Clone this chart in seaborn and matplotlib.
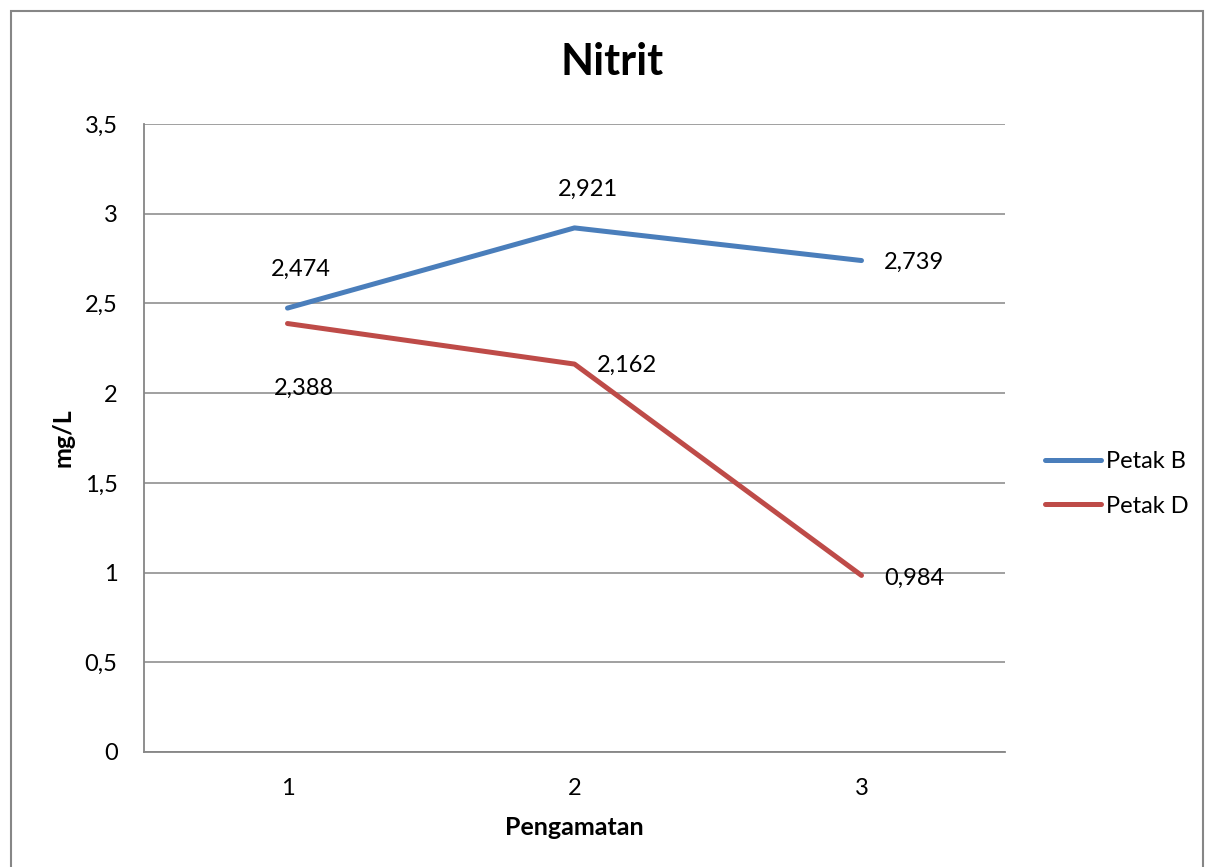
import numpy as np
import pandas as pd
import seaborn as sns
import matplotlib.pyplot as plt
from matplotlib.patches import Rectangle
from matplotlib.ticker import FuncFormatter

# data
pengamatan = [1, 2, 3]
petak_b = [2.474, 2.921, 2.739]
petak_d = [2.388, 2.162, 0.984]
series_names = ['Petak B', 'Petak D']
colors = ['#4A7EBB', '#BE4B48']

df = pd.DataFrame({
    'Pengamatan': pengamatan * 2,
    'mg/L': petak_b + petak_d,
    'Seri': [series_names[0]] * 3 + [series_names[1]] * 3,
})

sns.set_style('white')
plt.rcParams['font.family'] = ['Lato', 'DejaVu Sans']
plt.rcParams['text.color'] = 'black'
plt.rcParams['axes.labelcolor'] = 'black'

fig = plt.figure(figsize=(12.06, 8.67), dpi=100)
ax = fig.add_axes([144 / 1206, 1 - 752 / 867, (1005 - 144) / 1206, (752 - 124) / 867])

sns.lineplot(data=df, x='Pengamatan', y='mg/L', hue='Seri', palette=colors,
             linewidth=3.6, ax=ax, legend=True, solid_capstyle='round')

ax.set_xlim(0.5, 3.5)
ax.set_ylim(0, 3.5)
ax.set_yticks(np.arange(0, 3.51, 0.5))
ax.set_xticks(pengamatan)
fmt = lambda v, p=None: ('%g' % v).replace('.', ',')
ax.yaxis.set_major_formatter(FuncFormatter(fmt))
ax.grid(axis='y', color='#868686', linewidth=1.1)
ax.set_axisbelow(True)
for s in ['top', 'right']:
    ax.spines[s].set_visible(False)
for s in ['left', 'bottom']:
    ax.spines[s].set_color('#868686')
    ax.spines[s].set_linewidth(1.3)
ax.tick_params(axis='both', length=0, labelsize=17, colors='black')
ax.tick_params(axis='y', pad=19)
ax.tick_params(axis='x', pad=19)

fig.text(612 / 1206, 1 - 62 / 867, 'Nitrit', fontsize=31, fontweight='bold',
         ha='center', va='center', color='black')
ax.set_xlabel('Pengamatan', fontsize=18, fontweight='bold', labelpad=12)
ax.set_ylabel('mg/L', fontsize=18, fontweight='bold', labelpad=7)

# data labels (offsets in points, like Excel label placement)
offsets_b = [(9.5, 28), (9.5, 28), (38, -1)]
offsets_d = [(12, -47), (38, -1), (38, -2)]
for xs, ys, offs in [(pengamatan, petak_b, offsets_b), (pengamatan, petak_d, offsets_d)]:
    for xv, yv, o in zip(xs, ys, offs):
        ax.annotate(fmt(yv), (xv, yv), xytext=o, textcoords='offset points',
                    ha='center', va='center', fontsize=17, color='black')

leg = ax.legend(loc='center left', bbox_to_anchor=(1.035, 0.427), frameon=False,
                fontsize=17, handlelength=2.4, handletextpad=0.2, labelspacing=1.0,
                borderaxespad=0)
for line in leg.get_lines():
    line.set_linewidth(3.6)
for t in leg.get_texts():
    t.set_color('black')

fig.patches.append(Rectangle((11 / 1206, -0.1), (1203 - 11) / 1206, 1.1 - 11 / 867,
                             transform=fig.transFigure, fill=False,
                             edgecolor='#868686', linewidth=1.5))

fig.savefig('out.png', dpi=100)
